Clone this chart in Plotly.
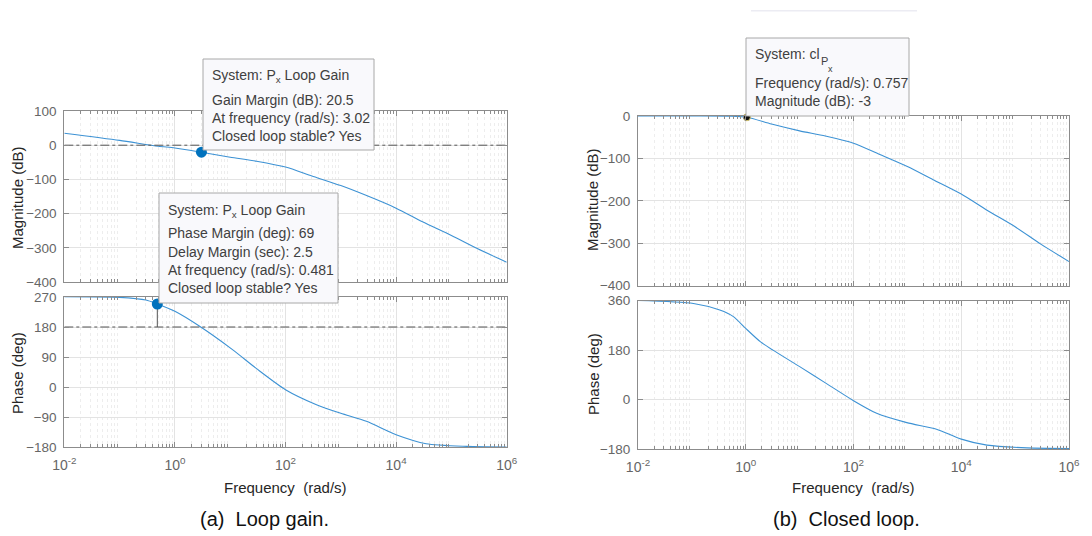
import plotly.graph_objects as go

W, H = 1092, 536

# ---------------- data ----------------
lg_mag_freq = [0.01, 0.1, 0.5, 1, 3.02, 10, 30, 100, 300, 1000, 3000, 1e4, 3e4, 1e5, 3e5, 1e6]
lg_mag_db   = [35, 14, -3, -8, -20.5, -35, -47, -64, -90, -118, -148, -184, -224, -264, -303, -342]

lg_ph_freq = [0.01, 0.1, 0.3, 0.481, 1, 2.8, 11, 30, 100, 363, 1000, 2900, 1e4, 3.5e4, 1.9e5, 1e6]
lg_ph_deg  = [271, 269, 261, 249, 227, 182, 112, 55, -8, -53, -79, -103, -143, -170, -178, -180]

cl_mag_freq = [0.01, 0.1, 0.5, 1.05, 3, 10, 30, 100, 300, 1000, 3000, 1e4, 3e4, 1e5, 3e5, 1e6]
cl_mag_db   = [0, 0, -0.5, -3, -19, -35, -47, -64, -90, -119, -150, -184, -222, -261, -302, -343]

cl_ph_freq = [0.01, 0.107, 0.33, 0.59, 1, 1.86, 3.2, 10.2, 31.6, 100, 269, 977, 3470, 1e4, 3e4, 1.66e5, 1e6]
cl_ph_deg  = [361, 350, 326, 302, 259, 211, 180, 119, 58, -4, -50, -84, -108, -144, -166, -176, -178]

gm_freq, gm_db = 3.02, -20.5
pm_freq, pm_deg = 0.481, 249
cl_bw_freq, cl_bw_db = 1.05, -3

xtick_vals = [1e-2, 1e0, 1e2, 1e4, 1e6]
xtick_text = ["10<sup>-2</sup>", "10<sup>0</sup>", "10<sup>2</sup>", "10<sup>4</sup>", "10<sup>6</sup>"]
minor_vals = [m * 10 ** e for e in range(-2, 6) for m in range(2, 10)]

lg_mag_ticks = [100, 0, -100, -200, -300, -400]
lg_ph_ticks = [270, 180, 90, 0, -90, -180]
cl_mag_ticks = [0, -100, -200, -300, -400]
cl_ph_ticks = [360, 180, 0, -180]

# ---------------- styling ----------------
FONT = "Liberation Sans, Arial, Helvetica, sans-serif"
LINE = "#3d92d4"
MARK = "#0072BD"
AXC = "#8c8c8c"
TICKC = "#666666"
GRIDC = "#e3e3e3"
MINC = "#ededed"
TITLEC = "#262626"

def px(x):
    return x / W

def py(y):
    return 1 - y / H

fig = go.Figure()

def add_line(x, y, xa, ya):
    fig.add_trace(go.Scatter(x=x, y=y, mode="lines", xaxis=xa, yaxis=ya,
                             line=dict(color=LINE, width=1.1, shape="spline", smoothing=0.7),
                             hoverinfo="skip", showlegend=False))

add_line(lg_mag_freq, lg_mag_db, "x", "y")
add_line(lg_ph_freq, lg_ph_deg, "x2", "y2")
add_line(cl_mag_freq, cl_mag_db, "x3", "y3")
add_line(cl_ph_freq, cl_ph_deg, "x4", "y4")

# reference lines (dash-dot)
fig.add_trace(go.Scatter(x=[1e-2, 1e6], y=[0, 0], mode="lines", xaxis="x", yaxis="y",
                         line=dict(color="#555555", width=1, dash="dashdot"), showlegend=False, hoverinfo="skip"))
fig.add_trace(go.Scatter(x=[1e-2, 1e6], y=[180, 180], mode="lines", xaxis="x2", yaxis="y2",
                         line=dict(color="#555555", width=1, dash="dashdot"), showlegend=False, hoverinfo="skip"))
# phase-margin stem
fig.add_trace(go.Scatter(x=[pm_freq, pm_freq], y=[180, pm_deg], mode="lines", xaxis="x2", yaxis="y2",
                         line=dict(color="#555555", width=1), showlegend=False, hoverinfo="skip"))

# markers
fig.add_trace(go.Scatter(x=[gm_freq], y=[gm_db], mode="markers", xaxis="x", yaxis="y",
                         marker=dict(color=MARK, size=11), cliponaxis=False, showlegend=False, hoverinfo="skip"))
fig.add_trace(go.Scatter(x=[pm_freq], y=[pm_deg], mode="markers", xaxis="x2", yaxis="y2",
                         marker=dict(color=MARK, size=11), cliponaxis=False, showlegend=False, hoverinfo="skip"))
fig.add_trace(go.Scatter(x=[cl_bw_freq], y=[cl_bw_db], mode="markers", xaxis="x3", yaxis="y3",
                         marker=dict(color="#111111", size=7, line=dict(color="#d8c870", width=1)),
                         cliponaxis=False, showlegend=False, hoverinfo="skip"))

# ---------------- axes ----------------
def xaxis(domain, anchor, labels):
    return dict(domain=domain, anchor=anchor, type="log", range=[-2, 6], automargin=False,
                tickvals=xtick_vals, ticktext=xtick_text if labels else ["" for _ in xtick_vals],
                showticklabels=labels,
                tickfont=dict(family=FONT, size=14, color=TICKC),
                ticks="inside", ticklen=5, tickcolor=AXC, mirror="ticks",
                showline=True, linecolor=AXC, linewidth=1,
                showgrid=True, gridcolor=GRIDC, gridwidth=1, zeroline=False,
                minor=dict(tickvals=minor_vals, ticks="inside", ticklen=3, tickcolor=AXC,
                           showgrid=True, gridcolor=MINC, griddash="dot", gridwidth=1),
                ticklabelstandoff=5)

def yaxis(domain, anchor, rng, ticks):
    return dict(domain=domain, anchor=anchor, range=rng, tickvals=ticks, automargin=False,
                tickfont=dict(family=FONT, size=13.5, color=TICKC),
                ticks="inside", ticklen=5, tickcolor=AXC, mirror="ticks",
                showline=True, linecolor=AXC, linewidth=1,
                showgrid=True, gridcolor=GRIDC, gridwidth=1, zeroline=False,
                ticklabelstandoff=4)

LX = [px(64.3), px(506.7)]
RX = [px(638), px(1069)]

fig.update_layout(
    width=W, height=H, margin=dict(l=0, r=0, t=0, b=0, autoexpand=False),
    paper_bgcolor="white", plot_bgcolor="white",
    font=dict(family=FONT),
    xaxis=xaxis(LX, "y", False),
    yaxis=yaxis([py(282), py(111)], "x", [-400, 100], lg_mag_ticks),
    xaxis2=xaxis(LX, "y2", True),
    yaxis2=yaxis([py(447), py(297)], "x2", [-180, 270], lg_ph_ticks),
    xaxis3=xaxis(RX, "y3", False),
    yaxis3=yaxis([py(285.7), py(116)], "x3", [-400, 0], cl_mag_ticks),
    xaxis4=xaxis(RX, "y4", True),
    yaxis4=yaxis([py(449), py(300.7)], "x4", [-180, 360], cl_ph_ticks),
)

# ---------------- text ----------------
ann = []

def text(x, y, t, size=14, color="#404040", xanchor="left", angle=0):
    ann.append(dict(x=px(x), y=py(y), xref="paper", yref="paper", text=t, showarrow=False,
                    xanchor=xanchor, yanchor="middle", textangle=angle, align="left",
                    font=dict(family=FONT, size=size, color=color)))

# axis titles
text(17, 198, "Magnitude (dB)", 15, TITLEC, "center", -90)
text(17, 373, "Phase (deg)", 15, TITLEC, "center", -90)
text(593, 200, "Magnitude (dB)", 15, TITLEC, "center", -90)
text(593, 374, "Phase (deg)", 15, TITLEC, "center", -90)
text(285.5, 487, "Frequency  (rad/s)", 15, TITLEC, "center")
text(853.5, 487, "Frequency  (rad/s)", 15, TITLEC, "center")
# captions
text(264, 519, "(a)  Loop gain.", 20, "#111111", "center")
text(846, 519, "(b)  Closed loop.", 20, "#111111", "center")

# data-tip boxes
shapes = []
def box(x0, y0, x1, y1):
    shapes.append(dict(type="rect", xref="paper", yref="paper", x0=px(x0), x1=px(x1), y0=py(y1), y1=py(y0),
                       line=dict(color="#a8a8a8", width=1), fillcolor="#f9f9fc", layer="above"))

box(203, 59, 374, 150)
box(159, 193, 338, 303)
box(746, 38, 909, 116)
shapes.append(dict(type="line", xref="paper", yref="paper", x0=px(751), x1=px(917), y0=py(10.7), y1=py(10.7),
                   line=dict(color="#ececf3", width=1.5)))

text(210, 76, "System: P<sub>x</sub> Loop Gain")
text(210, 100, "Gain Margin (dB): 20.5")
text(210, 118, "At frequency (rad/s): 3.02")
text(210, 136, "Closed loop stable? Yes")

text(166, 211, "System: P<sub>x</sub> Loop Gain")
text(166, 233, "Phase Margin (deg): 69")
text(166, 252, "Delay Margin (sec): 2.5")
text(166, 270, "At frequency (rad/s): 0.481")
text(166, 288, "Closed loop stable? Yes")

text(753, 54, "System: cl")
text(818.5, 61, "P", 11)
text(826, 69, "x", 9)
text(753, 83, "Frequency (rad/s): 0.757")
text(753, 101, "Magnitude (dB): -3")

fig.update_layout(annotations=ann, shapes=shapes)

fig.write_html("out.html")
